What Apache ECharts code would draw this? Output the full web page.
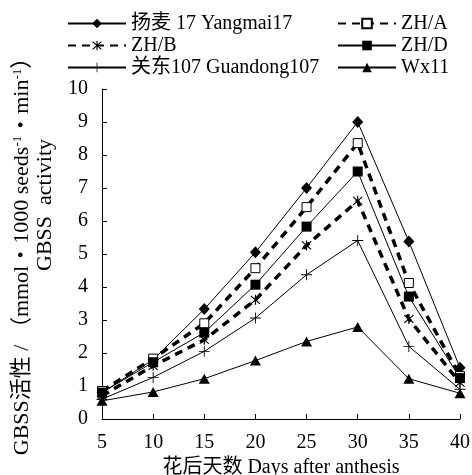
<!DOCTYPE html>
<html>
<head>
<meta charset="utf-8">
<script src="https://cdn.jsdelivr.net/npm/echarts@6/dist/echarts.min.js"></script>
<style>
html, body { margin: 0; padding: 0; background: #fff; }
#main { width: 472px; height: 475px; }
</style>
</head>
<body>
<div id="main"></div>
<script>
// 花后天数
var days = [5, 10, 15, 20, 25, 30, 35, 40];
// GBSS活性
var yangmai17 = [0.8, 1.8, 3.33, 5.05, 7.0, 9.0, 5.38, 1.55];
var zhA = [0.85, 1.83, 2.9, 4.57, 6.42, 8.36, 4.12, 1.3];
var zhB = [0.7, 1.61, 2.4, 3.61, 5.26, 6.61, 3.03, 1.1];
var zhD = [0.8, 1.72, 2.62, 4.07, 5.83, 7.5, 3.71, 1.24];
var guandong107 = [0.6, 1.26, 2.05, 3.06, 4.37, 5.41, 2.2, 0.9];
var wx11 = [0.55, 0.82, 1.22, 1.77, 2.35, 2.79, 1.22, 0.78];

var FONT = "'Liberation Serif', 'Noto Sans CJK SC', serif";
var plusPath = 'path://M0,4.6H10V5.4H0Z M4.6,0H5.4V10H4.6Z';
var starPath = 'path://M4.5,0H5.5V10H4.5Z M0.7,1.4L1.4,0.7L9.3,8.6L8.6,9.3Z M8.6,0.7L9.3,1.4L1.4,9.3L0.7,8.6Z';

function pairs(arr) {
    var out = [];
    for (var i = 0; i < days.length; i++) {
        out.push([days[i], arr[i]]);
    }
    return out;
}

var thin = { color: '#000', width: 1 };
var dashed = { color: '#000', width: 3.5, type: [8, 6] };

function mkSeries(name, arr, symbol, size, line, fill) {
    return {
        name: name,
        type: 'line',
        data: pairs(arr),
        symbol: symbol,
        symbolSize: size,
        showAllSymbol: true,
        lineStyle: line,
        itemStyle: { color: fill, borderColor: '#000', borderWidth: fill === '#fff' ? 1 : 0 },
        emphasis: { disabled: true },
        z: 2
    };
}

var legendText = { fontFamily: FONT, fontSize: 20, color: '#000', lineHeight: 21 };

var chart = echarts.init(document.getElementById('main'));

var option = {
    animation: false,
    backgroundColor: '#fff',
    textStyle: { fontFamily: FONT, color: '#000' },
    grid: { left: 102, right: 12, top: 89, bottom: 56, outerBoundsMode: 'none', containLabel: false },
    legend: [
        {
            data: ['扬麦 17 Yangmai17', 'ZH/B', '关东107 Guandong107'],
            orient: 'vertical',
            left: 67, top: 13, padding: 0,
            itemWidth: 58, itemHeight: 12, itemGap: 1,
            textStyle: legendText
        },
        {
            data: ['ZH/A', 'ZH/D', 'Wx11'],
            orient: 'vertical',
            left: 337, top: 13, padding: 0,
            itemWidth: 58, itemHeight: 12, itemGap: 1,
            textStyle: legendText
        }
    ],
    xAxis: {
        type: 'value',
        min: 5, max: 40, interval: 5,
        name: '花后天数 Days after anthesis',
        nameLocation: 'middle',
        nameGap: 36,
        nameTextStyle: { fontFamily: FONT, fontSize: 20, color: '#000' },
        axisLine: { lineStyle: { color: '#000', width: 1 } },
        axisTick: { inside: true, length: 5, lineStyle: { color: '#000' } },
        axisLabel: { fontFamily: FONT, fontSize: 20, color: '#000', margin: 14 },
        splitLine: { show: false }
    },
    yAxis: {
        type: 'value',
        min: 0, max: 10, interval: 1,
        axisLine: { show: true, lineStyle: { color: '#000', width: 1 } },
        axisTick: { show: true, inside: true, length: 5, lineStyle: { color: '#000' } },
        axisLabel: { fontFamily: FONT, fontSize: 20, color: '#000', margin: 14 },
        splitLine: { show: false }
    },
    graphic: [
        {
            type: 'text',
            x: 22, y: 251,
            rotation: Math.PI / 2,
            style: {
                text: 'GBSS活性 / （mmol・1000 seeds{s|-1}・min{s|-1}）',
                font: '22px ' + FONT,
                fill: '#000',
                align: 'center',
                verticalAlign: 'middle',
                rich: {
                    s: { fontSize: 13, fontFamily: FONT, verticalAlign: 'top', padding: [0, 0, 9, 0] }
                }
            }
        },
        {
            type: 'text',
            x: 45, y: 205,
            rotation: Math.PI / 2,
            style: {
                text: 'GBSS  activity',
                font: '22px ' + FONT,
                fill: '#000',
                align: 'center',
                verticalAlign: 'middle'
            }
        }
    ],
    series: [
        mkSeries('扬麦 17 Yangmai17', yangmai17, 'diamond', [11, 12], thin, '#000'),
        mkSeries('ZH/A', zhA, 'rect', 9, dashed, '#fff'),
        mkSeries('ZH/B', zhB, starPath, 10, dashed, '#000'),
        mkSeries('ZH/D', zhD, 'rect', 10, thin, '#000'),
        mkSeries('关东107 Guandong107', guandong107, plusPath, 11, thin, '#000'),
        mkSeries('Wx11', wx11, 'triangle', [11, 10], thin, '#000')
    ]
};

chart.setOption(option);
</script>
</body>
</html>
